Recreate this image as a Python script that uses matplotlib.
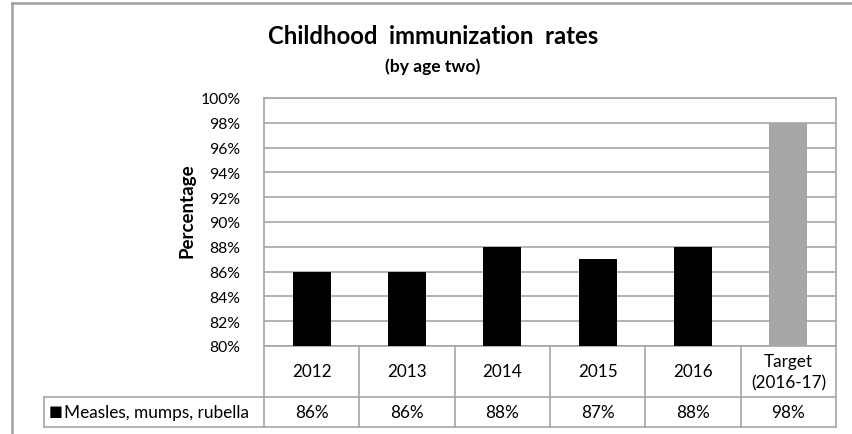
import matplotlib.pyplot as plt
from matplotlib.lines import Line2D
import matplotlib.transforms as mtransforms

plt.rcParams['font.family'] = ['Lato', 'DejaVu Sans']

# data
categories = ['2012', '2013', '2014', '2015', '2016', 'Target\n(2016-17)']
rates = [86, 86, 88, 87, 88, 98]
bar_colors = ['black', 'black', 'black', 'black', 'black', '#A6A6A6']
series_name = 'Measles, mumps, rubella'
yticks = list(range(80, 101, 2))

W, H = 853, 435
fig = plt.figure(figsize=(W / 100, H / 100), dpi=100)

# plot area in pixel coords
left, right, top, bottom = 264, 836, 99, 347
ax = fig.add_axes([left / W, 1 - bottom / H, (right - left) / W, (bottom - top) / H])

grid_col = '#A6A6A6'
x = list(range(len(categories)))
ax.bar(x, [r - 80 for r in rates], bottom=80, width=0.4, color=bar_colors, zorder=3)

ax.set_xlim(-0.5, len(categories) - 0.5)
ax.set_ylim(80, 100)
ax.set_yticks(yticks)
ax.set_yticklabels([f'{t}%' for t in yticks], fontsize=11.3)
ax.set_xticks([])
ax.tick_params(axis='y', length=0, pad=17)
ax.yaxis.grid(True, color=grid_col, linewidth=1.2, zorder=0)
ax.set_axisbelow(True)
for s in ax.spines.values():
    s.set_color(grid_col)
    s.set_linewidth(1.2)
ax.set_ylabel('Percentage', fontsize=13.5, fontweight='bold')
ax.yaxis.set_label_coords(-0.12, 0.55)

# data table below the plot
trans = mtransforms.blended_transform_factory(ax.transData, ax.transAxes)
ph = bottom - top
y_head = (bottom - 398) / ph
y_data = (bottom - 428) / ph
ncat = len(categories)
colw = (right - left) / ncat
x_leg = (44 - left) / colw - 0.5

def tline(xs, ys):
    ax.add_line(Line2D(xs, ys, transform=trans, color=grid_col, linewidth=1.2,
                       clip_on=False))

tline([x_leg, ncat - 0.5], [y_head, y_head])
tline([x_leg, ncat - 0.5], [y_data, y_data])
tline([x_leg, x_leg], [y_head, y_data])
for i in range(ncat + 1):
    tline([i - 0.5, i - 0.5], [0, y_data])

for i, (c, r) in enumerate(zip(categories, rates)):
    ax.text(i, y_head / 2, c, transform=trans, ha='center', va='center',
            fontsize=12.3, linespacing=1.4)
    ax.text(i, (y_head + y_data) / 2, f'{r}%', transform=trans, ha='center',
            va='center', fontsize=12.3)

ax.text(x_leg + 0.05, (y_head + y_data) / 2 + 0.005, '\u25A0', transform=trans,
        ha='left', va='center', fontsize=10.5, family='DejaVu Sans')
ax.text(x_leg + 0.21, (y_head + y_data) / 2, series_name, transform=trans,
        ha='left', va='center', fontsize=12.4)

# titles
fig.text(433 / W, 1 - 37 / H, 'Childhood  immunization  rates', ha='center',
         va='center', fontsize=17.2, fontweight='bold')
fig.text(433 / W, 1 - 67 / H, '(by age two)', ha='center', va='center',
         fontsize=12.6, fontweight='bold')

# chart frame (top and left edges)
fig.add_artist(Line2D([12 / W, 1], [1 - 4 / H, 1 - 4 / H], color='#A0A0A0',
                      linewidth=1.8))
fig.add_artist(Line2D([12 / W, 12 / W], [1 - 4 / H, 0], color='#A0A0A0',
                      linewidth=1.8))

fig.savefig('out.png', dpi=100)
